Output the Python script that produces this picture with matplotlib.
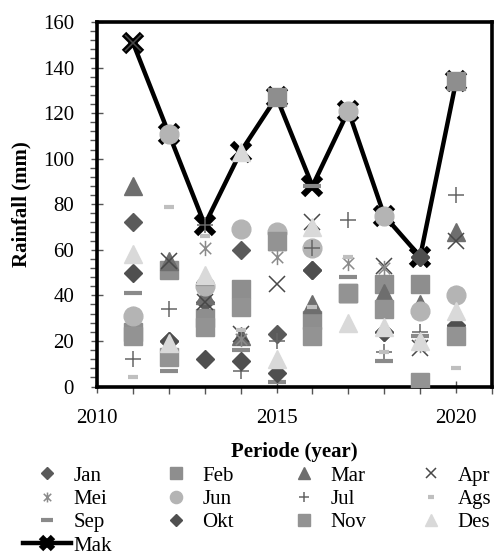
import matplotlib
matplotlib.use("Agg")
import matplotlib.pyplot as plt
from matplotlib.path import Path

plt.rcParams['font.family'] = ['Liberation Serif', 'DejaVu Serif']

# monthly rainfall per year (mm)
years = [2011, 2012, 2013, 2014, 2015, 2016, 2017, 2018, 2019, 2020]
jan = [72, 20, 37, 60, 23, 51, 41, 24, 57, 26]
feb = [24, 51, 30, 43, 127, 29, 41, 45, 45, 134]
mar = [88, 55, 40, 22, 64, 36, 41, 41, 36, 68]
apr = [151, 55, 37, 23, 45, 72, 41, 53, 17, 64]
mei = [32, 13, 61, 21, 57, 22, 54, 52, 18, 41]
jun = [31, 111, 44, 69, 68, 61, 121, 75, 33, 40]
jul = [12, 34, 71, 7, 20, 61, 73, 15, 24, 84]
ags = [4, 79, 66, 25, 64, 35, 57, 15, 22, 8]
sep = [41, 7, 45, 16, 2, 88, 48, 11, 22, 26]
okt = [50, 20, 12, 11, 6, 51, 41, 24, 57, 27]
nov = [22, 13, 26, 35, 64, 22, 41, 34, 2, 22]
des = [58, 19, 49, 103, 12, 70, 28, 26, 20, 33]
mak = [151, 111, 71, 103, 127, 88, 121, 75, 57, 134]

# asterisk like Excel: vertical bar + x
aster = Path([(0, -1), (0, 1), (-0.75, -0.75), (0.75, 0.75), (-0.75, 0.75), (0.75, -0.75)],
             [Path.MOVETO, Path.LINETO, Path.MOVETO, Path.LINETO, Path.MOVETO, Path.LINETO])

fig = plt.figure(figsize=(4.97, 5.59), dpi=100)
ax = fig.add_axes([97/497, 1-386.5/559, 395/497, 364.5/559])

mk = ax.plot(years, mak, color='black', lw=3.2, marker='x', ms=13, mew=4.5,
             label='Mak', zorder=2)[0]

series = [
    ('Jan', jan, dict(marker='D', ms=9.5, color='#5a5a5a', ls='none')),
    ('Feb', feb, dict(marker='s', ms=12.5, color='#8e8e8e', ls='none')),
    ('Mar', mar, dict(marker='^', ms=13, color='#6e6e6e', ls='none')),
    ('Apr', apr, dict(marker='x', ms=11, mew=1.1, color='#484848', ls='none')),
    ('Mei', mei, dict(marker=aster, ms=11, mew=1.1, color='#8a8a8a', ls='none')),
    ('Jun', jun, dict(marker='o', ms=13.5, color='#b4b4b4', ls='none')),
    ('Jul', jul, dict(marker='+', ms=12, mew=1.1, color='#666666', ls='none')),
    ('Ags', ags, dict(marker='_', ms=7, mew=3, color='#bfbfbf', ls='none')),
    ('Sep', sep, dict(marker='_', ms=13, mew=3, color='#8a8a8a', ls='none')),
    ('Okt', okt, dict(marker='D', ms=9.5, color='#4f4f4f', ls='none')),
    ('Nov', nov, dict(marker='s', ms=12.5, color='#939393', ls='none')),
    ('Des', des, dict(marker='^', ms=13, color='#d9d9d9', ls='none')),
]
h = {'Mak': mk}
for name, vals, st in series:
    h[name] = ax.plot(years, vals, label=name, zorder=3, **st)[0]

ax.set_xlim(2010, 2021)
ax.set_ylim(0, 160)
ax.set_xticks([2010, 2015, 2020])
ax.set_xticks(range(2010, 2022), minor=True)
ax.set_yticks(range(0, 161, 20))
ax.set_yticks(range(0, 161, 4), minor=True)
ax.tick_params(axis='both', which='major', direction='inout', length=9, width=1,
               color='#555555', labelsize=15)
ax.tick_params(axis='both', which='minor', direction='out', length=5, width=1,
               color='#555555')
ax.tick_params(axis='x', which='major', pad=12)
ax.tick_params(axis='y', which='major', pad=12)
for s in ax.spines.values():
    s.set_linewidth(2.6)

ax.set_xlabel('Periode (year)', fontsize=15, fontweight='bold', labelpad=10)
ax.set_ylabel('Rainfall (mm)', fontsize=15, fontweight='bold', labelpad=8)

# legend laid out like Excel: fixed-width columns, filled row by row
cols = [['Jan', 'Mei', 'Sep', 'Mak'], ['Feb', 'Jun', 'Okt'],
        ['Mar', 'Jul', 'Nov'], ['Apr', 'Ags', 'Des']]
col_x = [23, 152, 280, 407]
for names, x0 in zip(cols, col_x):
    fig.legend([h[n] for n in names], names, loc='upper left',
               bbox_to_anchor=(x0/497, 1-466/559), frameon=False, fontsize=15,
               handlelength=2.3, handletextpad=0.12, labelspacing=0.18,
               borderpad=0, borderaxespad=0, markerscale=0.65)

fig.savefig('out.png', dpi=100)
